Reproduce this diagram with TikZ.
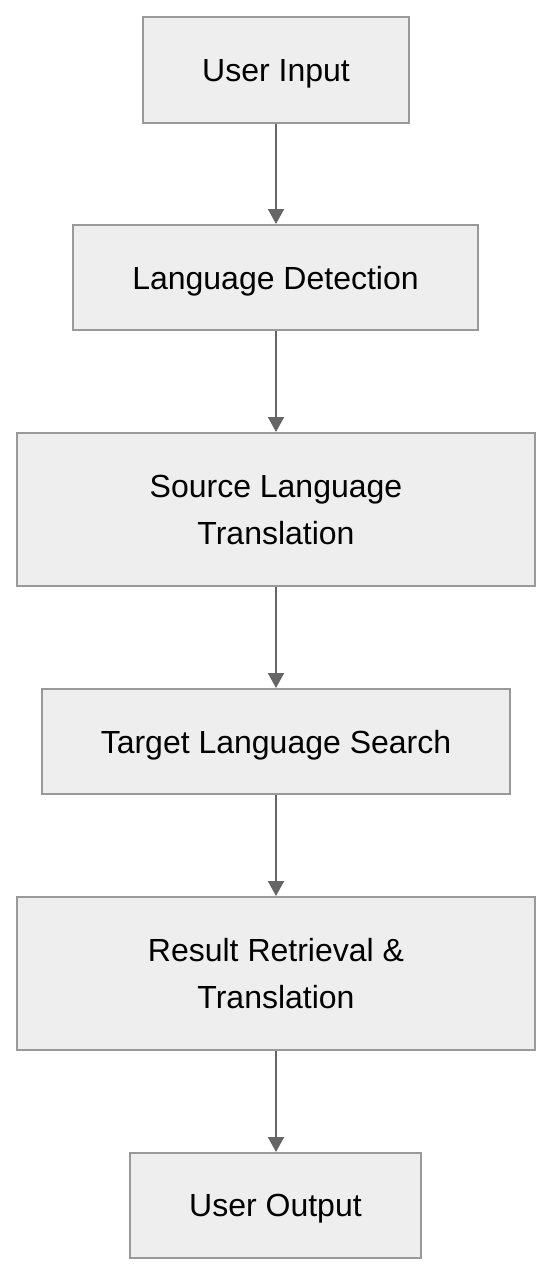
\documentclass[tikz,border=0pt]{standalone}
\usepackage{fontspec}
\setmainfont{Liberation Sans}
\usetikzlibrary{arrows.meta}
\definecolor{boxfill}{HTML}{EEEEEE}
\definecolor{boxline}{HTML}{999999}
\definecolor{arrowcol}{HTML}{666666}
\begin{document}
\begin{tikzpicture}[x=1pt,y=-1pt,
  stepbox/.style={draw=boxline, fill=boxfill, line width=2pt, inner sep=0pt,
    align=center, font=\fontsize{32}{47}\selectfont, text=black},
  oneline/.style={text depth=0pt},
  flow/.style={draw=arrowcol, line width=2pt, -{Triangle[width=16pt,length=15pt]}}]
\useasboundingbox (0,0) rectangle (552,1276);
\node[stepbox, oneline, minimum width=266pt, minimum height=106pt] (n1) at (276,70) {User Input};
\node[stepbox, oneline, minimum width=405pt, minimum height=105pt] (n2) at (275.5,277.5) {Language Detection};
\node[stepbox, minimum width=518pt, minimum height=153pt] (n3) at (276,509.5) {Source Language\\Translation};
\node[stepbox, oneline, minimum width=468pt, minimum height=105pt] (n4) at (276,741.5) {Target Language Search};
\node[stepbox, minimum width=518pt, minimum height=153pt] (n5) at (276,973.5) {Result Retrieval \&\\Translation};
\node[stepbox, oneline, minimum width=291pt, minimum height=105pt] (n6) at (275.5,1205.5) {User Output};
\draw[flow] (n1.south -| 276,0) -- (n2.north -| 276,0);
\draw[flow] (n2.south -| 276,0) -- (n3.north -| 276,0);
\draw[flow] (n3.south -| 276,0) -- (n4.north -| 276,0);
\draw[flow] (n4.south -| 276,0) -- (n5.north -| 276,0);
\draw[flow] (n5.south -| 276,0) -- (n6.north -| 276,0);
\end{tikzpicture}
\end{document}
